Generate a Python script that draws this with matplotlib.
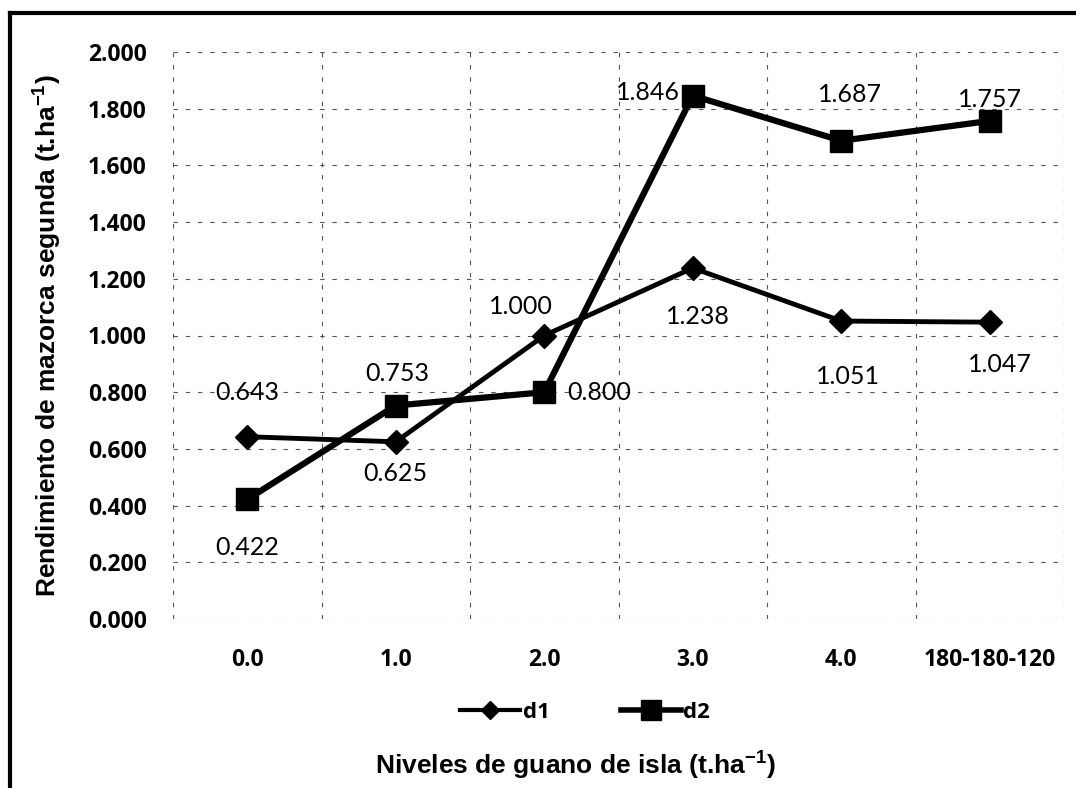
import matplotlib
matplotlib.use("Agg")
import matplotlib.pyplot as plt
from matplotlib.lines import Line2D
import numpy as np

categories = ["0.0", "1.0", "2.0", "3.0", "4.0", "180-180-120"]
d1 = [0.643, 0.625, 1.000, 1.238, 1.051, 1.047]
d2 = [0.422, 0.753, 0.800, 1.846, 1.687, 1.757]
d1_labels = ["0.643", "0.625", "1.000", "1.238", "1.051", "1.047"]
d2_labels = ["0.422", "0.753", "0.800", "1.846", "1.687", "1.757"]
yticks = [0.0, 0.2, 0.4, 0.6, 0.8, 1.0, 1.2, 1.4, 1.6, 1.8, 2.0]

W, H = 1076, 788
fig = plt.figure(figsize=(W / 100, H / 100), dpi=100)
ax = fig.add_axes([173 / W, 1 - 619 / H, (1064 - 173) / W, (619 - 52) / H])

x = np.arange(len(categories))
ax.plot(x, d1, color="black", lw=3.5, marker="D", markersize=12, zorder=3, label="d1")
ax.plot(x, d2, color="black", lw=4.5, marker="s", markersize=16, zorder=4, label="d2")

ax.set_xlim(-0.5, len(categories) - 0.5)
ax.set_ylim(0, 2.0)
ax.set_yticks(yticks)
ax.set_yticklabels([f"{v:.3f}" for v in yticks])
ax.set_xticks(x)
ax.set_xticklabels(categories)
ax.tick_params(axis="y", length=0, pad=19)
ax.tick_params(axis="x", length=0, pad=21)
for lab in ax.get_xticklabels() + ax.get_yticklabels():
    lab.set_fontfamily("Open Sans")
    lab.set_fontweight("bold")
    lab.set_fontsize(16.5)

# grid
for yv in yticks:
    ax.axhline(yv, color="#555555", lw=0.8, ls=(0, (4, 7)), zorder=1)
for xv in np.arange(-0.5, len(categories) + 0.5, 1.0):
    ax.axvline(xv, color="#555555", lw=0.8, ls=(0, (4, 7)), zorder=1)
for s in ax.spines.values():
    s.set_visible(False)

d1_off = [(0, 44), (0, -32), (-23, 29), (5, -48), (7, -55), (10, -42)]
d2_off = [(0, -48), (2, 32), (55, 0), (-45, 3), (9, 46), (0, 21)]
lab_font = dict(fontfamily="Lato", fontsize=18, ha="center", va="center")
for i in range(len(categories)):
    ax.annotate(d1_labels[i], (x[i], d1[i]), xytext=d1_off[i],
                textcoords="offset pixels", zorder=5, **lab_font)
    ax.annotate(d2_labels[i], (x[i], d2[i]), xytext=d2_off[i],
                textcoords="offset pixels", zorder=5, **lab_font)

ax.set_ylabel(r"Rendimiento de mazorca segunda (t.ha$^{\mathregular{-1}}$)",
              fontfamily="Liberation Sans", fontweight="bold", fontsize=19, labelpad=18)
fig.text(575 / W, 1 - 765 / H, r"Niveles de guano de isla (t.ha$^{\mathregular{-1}}$)",
         fontfamily="Liberation Sans", fontweight="bold", fontsize=19,
         ha="center", va="center")

leg = fig.legend(handles=[
    Line2D([], [], color="black", lw=3, marker="D", markersize=9),
    Line2D([], [], color="black", lw=4, marker="s", markersize=14)],
    labels=["d1", "d2"], ncol=2, frameon=False, loc="center",
    bbox_to_anchor=(585 / W, 1 - 712 / H), handlelength=2.7, columnspacing=3.2,
    prop={"family": "Open Sans", "weight": "bold", "size": 16}, handletextpad=0.1)

# figure border (left and top)
fig.add_artist(Line2D([10 / W, 10 / W], [0, 1 - 13 / H], color="black", lw=3,
                      transform=fig.transFigure))
fig.add_artist(Line2D([10 / W, 1], [1 - 13 / H, 1 - 13 / H], color="black", lw=3,
                      transform=fig.transFigure))

fig.savefig("out.png", dpi=100)
